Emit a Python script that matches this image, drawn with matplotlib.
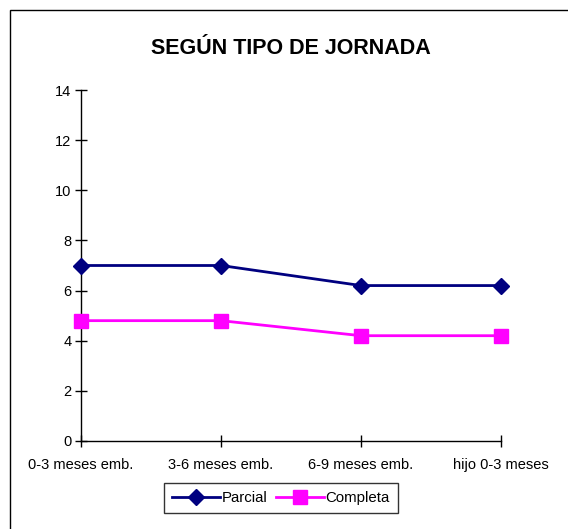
import matplotlib.pyplot as plt
from matplotlib.patches import Rectangle

plt.rcParams['font.family'] = ['Liberation Sans', 'DejaVu Sans']

# Data
categories = ['0-3 meses emb.', '3-6 meses emb.', '6-9 meses emb.', 'hijo 0-3 meses']
parcial = [7.0, 7.0, 6.2, 6.2]
completa = [4.8, 4.8, 4.2, 4.2]

fig = plt.figure(figsize=(5.68, 5.29), dpi=100)
ax = fig.add_axes([81 / 568, 1 - 441 / 529, 420 / 568, 351 / 529])

x = list(range(len(categories)))
ax.plot(x, parcial, color='#000080', lw=2, marker='D', markersize=8,
        label='Parcial', clip_on=False, zorder=3)
ax.plot(x, completa, color='#FF00FF', lw=2, marker='s', markersize=10.5,
        label='Completa', clip_on=False, zorder=3)

ax.set_xlim(0, 3)
ax.set_ylim(0, 14)
ax.set_yticks(range(0, 15, 2))
ax.set_xticks(x)
ax.set_xticklabels(categories)
ax.tick_params(direction='inout', length=8, width=1, labelsize=10.5, colors='black')
ax.tick_params(axis='x', pad=8)
ax.tick_params(axis='y', pad=3)
for s in ['top', 'right']:
    ax.spines[s].set_visible(False)
for s in ['left', 'bottom']:
    ax.spines[s].set_linewidth(1)

fig.text(291 / 568, 1 - 48 / 529, 'SEGÚN TIPO DE JORNADA', ha='center', va='center',
         fontsize=15.5, fontweight='bold')

leg = fig.legend(loc='center', bbox_to_anchor=(281 / 568, 1 - 498 / 529), ncol=2,
                 frameon=True, fancybox=False, edgecolor='black', fontsize=10.8,
                 handlelength=3.2, handletextpad=0.1, columnspacing=0.6,
                 borderpad=0.55)
leg.get_frame().set_linewidth(1)

# outer chart border
fig.patches.append(Rectangle((10 / 568, -0.1), 1.2, 1 - 10 / 529 + 0.1,
                             transform=fig.transFigure, fill=False,
                             edgecolor='black', lw=1))

fig.savefig('out.png', dpi=100)
